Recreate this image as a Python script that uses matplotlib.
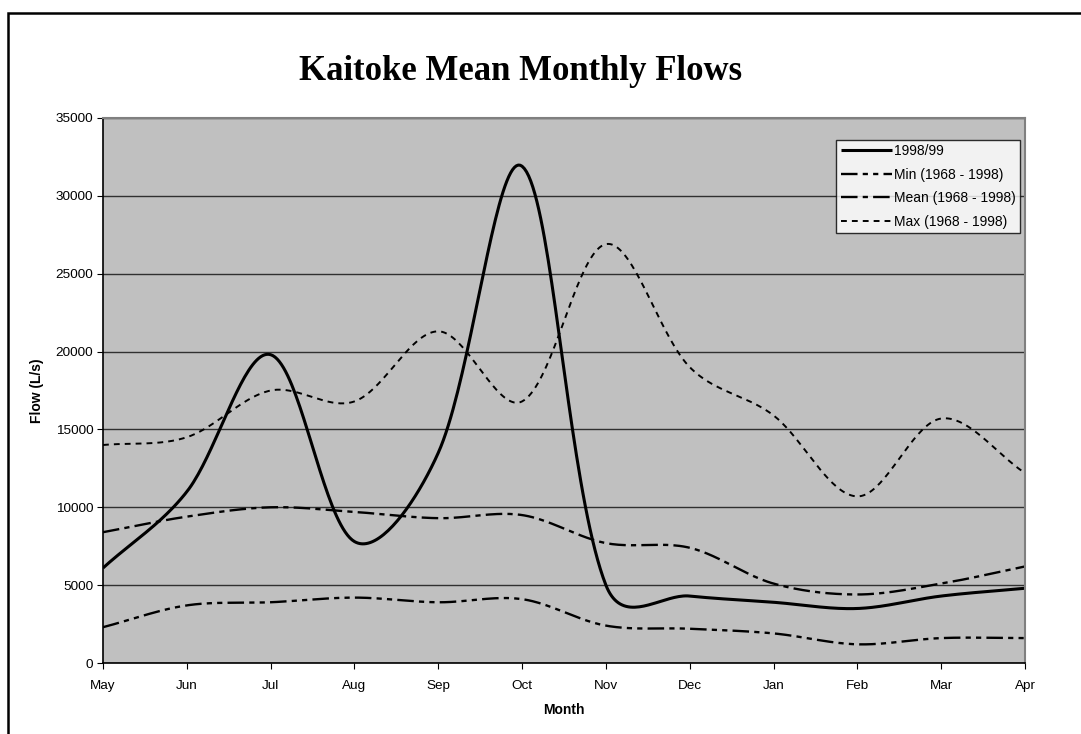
import numpy as np
import matplotlib
matplotlib.use('Agg')
import matplotlib.pyplot as plt
from matplotlib.patches import Rectangle

months = ['May', 'Jun', 'Jul', 'Aug', 'Sep', 'Oct', 'Nov', 'Dec', 'Jan', 'Feb', 'Mar', 'Apr']
flow_9899 = [6100, 11000, 19800, 7800, 13500, 31900, 5000, 4300, 3900, 3500, 4300, 4800]
flow_min = [2300, 3700, 3900, 4200, 3900, 4100, 2400, 2200, 1900, 1200, 1600, 1600]
flow_mean = [8400, 9400, 10000, 9700, 9300, 9500, 7700, 7400, 5100, 4400, 5100, 6200]
flow_max = [14000, 14500, 17500, 16800, 21300, 16800, 26900, 19000, 15900, 10700, 15700, 12200]

# pixel scale of the plot area, used so the smoothing bends like excel's
SX = 922 / 11.0
SY = 545 / 35000.0


def smooth(y, n=40, a=0.5):
    # bezier smoothing through the points, tangents weighted by segment length
    pts = np.column_stack([np.arange(len(y)) * SX, np.asarray(y, dtype=float) * SY])
    t = np.linspace(0, 1, n, endpoint=False)[:, None]
    out = []
    for i in range(len(pts) - 1):
        p1, p2 = pts[i], pts[i + 1]
        p0 = pts[i - 1] if i > 0 else p1
        p3 = pts[i + 2] if i + 2 < len(pts) else p2
        l01 = np.hypot(*(p1 - p0)) ** a
        l12 = np.hypot(*(p2 - p1)) ** a
        l23 = np.hypot(*(p3 - p2)) ** a
        c1 = p1 + (p2 - p0) * (l12 / (l01 + l12)) / 3.0
        c2 = p2 - (p3 - p1) * (l12 / (l12 + l23)) / 3.0
        seg = ((1 - t) ** 3) * p1 + 3 * ((1 - t) ** 2) * t * c1 + 3 * (1 - t) * t ** 2 * c2 + t ** 3 * p2
        out.append(seg)
    out.append(pts[-1:])
    out = np.vstack(out)
    return out[:, 0] / SX, out[:, 1] / SY


plt.rcParams['font.family'] = ['Liberation Sans', 'DejaVu Sans']

fig = plt.figure(figsize=(10.81, 7.34), dpi=100)
fig.patches.append(Rectangle((8/1081, -0.1), 1.2, 1.1 - 13/734, transform=fig.transFigure,
                             fill=False, edgecolor='black', linewidth=1.8))

ax = fig.add_axes([103/1081, 71/734, 922/1081, 545/734])
ax.set_facecolor('#c0c0c0')

styles = [
    ('1998/99', flow_9899, '-', 2.2),
    ('Min (1968 - 1998)', flow_min, (0, (7, 2.2, 2.2, 2.2, 2.2, 2.2)), 1.7),
    ('Mean (1968 - 1998)', flow_mean, (0, (7, 2.2, 2.2, 2.2)), 1.7),
    ('Max (1968 - 1998)', flow_max, (0, (3, 2.6)), 1.4),
]
for label, vals, ls, lw in styles:
    xs, ys = smooth(vals)
    ax.plot(xs, ys, color='black', linestyle=ls, linewidth=lw, label=label,
            solid_capstyle='butt', dash_capstyle='butt')

ax.set_xlim(0, len(months) - 1)
ax.set_ylim(0, 35000)
ax.set_xticks(range(len(months)))
ax.set_xticklabels(months)
ax.set_yticks(range(0, 35001, 5000))
ax.yaxis.grid(True, color='#303030', linewidth=1.0)
ax.set_axisbelow(True)
ax.tick_params(axis='both', labelsize=9.7, direction='out', length=4, color='black')
ax.tick_params(axis='x', pad=8)
ax.tick_params(axis='y', pad=3)

for s in ['top', 'right']:
    ax.spines[s].set_color('#808080')
    ax.spines[s].set_linewidth(1.5)
for s in ['left', 'bottom']:
    ax.spines[s].set_color('black')
    ax.spines[s].set_linewidth(1.2)

ax.set_xlabel('Month', fontsize=10, fontweight='bold', labelpad=8)
ax.set_ylabel('Flow (L/s)', fontsize=10, fontweight='bold', labelpad=8)

fig.text(0.482, 0.903, 'Kaitoke Mean Monthly Flows', fontsize=25, fontweight='bold',
         family='Liberation Serif', ha='center', va='center')

leg = ax.legend(loc='upper right', bbox_to_anchor=(0.9946, 0.9596), fontsize=10,
                frameon=True, fancybox=False, handlelength=3.7, handletextpad=0.15,
                borderpad=0.3, labelspacing=0.68, borderaxespad=0)
leg.get_frame().set_facecolor('white')
leg.get_frame().set_edgecolor('black')
leg.get_frame().set_linewidth(1.0)

fig.savefig('out.png', dpi=100)
